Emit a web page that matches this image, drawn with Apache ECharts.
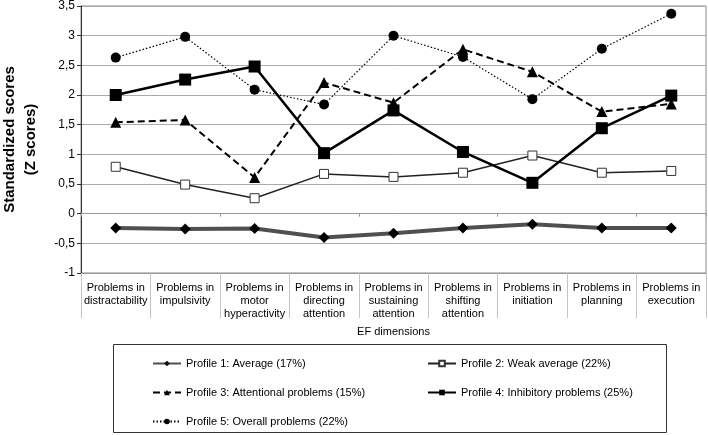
<!DOCTYPE html>
<html>
<head>
<meta charset="utf-8" />
<script src="https://cdn.jsdelivr.net/npm/echarts@6/dist/echarts.min.js"></script>
<title>EF profiles</title>
<style type="text/css">
* {margin:0; padding:0;}
body {background:#fff;}
#main {width:708px; height:435px;}
</style>
</head>
<body>
<div id="main"></div>
<script>
var categories = [
  'Problems in\ndistractability', 'Problems in\nimpulsivity', 'Problems in\nmotor\nhyperactivity',
  'Problems in\ndirecting\nattention', 'Problems in\nsustaining\nattention', 'Problems in\nshifting\nattention',
  'Problems in\ninitiation', 'Problems in\nplanning', 'Problems in\nexecution'
];
var names = [
  'Profile 1: Average (17%)', 'Profile 2: Weak average (22%)', 'Profile 3: Attentional problems (15%)',
  'Profile 4: Inhibitory problems (25%)', 'Profile 5: Overall problems (22%)'
];
var profile1 = [-0.24, -0.26, -0.25, -0.40, -0.33, -0.24, -0.18, -0.24, -0.24];
var profile2 = [0.79, 0.49, 0.26, 0.67, 0.62, 0.69, 0.98, 0.69, 0.72];
var profile3 = [1.54, 1.58, 0.61, 2.21, 1.87, 2.77, 2.39, 1.72, 1.85];
var profile4 = [2.00, 2.26, 2.48, 1.02, 1.74, 1.04, 0.52, 1.44, 1.99];
var profile5 = [2.63, 2.98, 2.09, 1.84, 3.00, 2.64, 1.93, 2.78, 3.37];

var font = 'Liberation Sans, Arial, sans-serif';
var chart = echarts.init(document.getElementById('main'));

// one legend per item so they sit in a 2-column grid like the original
function legendAt(name, left, top) {
  return {
    data: [name], left: left, top: top,
    itemWidth: 28, itemHeight: 7, itemGap: 4,
    selectedMode: false,
    textStyle: {fontSize: 11, color: '#000', fontFamily: font}
  };
}

chart.setOption({
  backgroundColor: '#fff',
  animation: false,
  grid: {
    left: 81, right: 2, top: 6, bottom: 162,
    outerBoundsMode: 'none',
    show: true, borderColor: '#888', borderWidth: 1
  },
  legend: [
    legendAt(names[0], 147, 353),
    legendAt(names[1], 422, 353),
    legendAt(names[2], 147, 382),
    legendAt(names[3], 422, 382),
    legendAt(names[4], 147, 411)
  ],
  graphic: [{
    type: 'rect',
    shape: {x: 113.5, y: 344.5, width: 553, height: 88},
    style: {fill: 'none', stroke: '#333', lineWidth: 1}
  }],
  xAxis: [{
    type: 'category',
    data: categories,
    position: 'bottom',
    boundaryGap: true,
    axisLine: {show: true, onZero: false, lineStyle: {color: '#999'}},
    axisTick: {show: true, length: 45, lineStyle: {color: '#c4c4c4'}},
    axisLabel: {interval: 0, fontSize: 11, lineHeight: 13, color: '#000', margin: 8, fontFamily: font},
    splitLine: {show: false},
    name: 'EF dimensions',
    nameLocation: 'middle',
    nameGap: 53,
    nameTextStyle: {fontSize: 11, color: '#000', fontFamily: font}
  }, {
    // the axis line that crosses at zero
    type: 'category',
    data: categories,
    position: 'bottom',
    boundaryGap: true,
    axisLine: {show: true, onZero: true, lineStyle: {color: '#999'}},
    axisTick: {show: true, length: 3, lineStyle: {color: '#999'}},
    axisLabel: {show: false},
    splitLine: {show: false}
  }],
  yAxis: {
    type: 'value',
    min: -1, max: 3.5, interval: 0.5,
    axisLine: {show: true, lineStyle: {color: '#333'}},
    axisTick: {show: true, length: 4, lineStyle: {color: '#333'}},
    axisLabel: {
      fontSize: 12, color: '#000', margin: 6, fontFamily: font,
      formatter: function (v) { return String(v).replace('.', ','); }
    },
    splitLine: {lineStyle: {color: '#aaa'}},
    name: 'Standardized scores\n(Z scores)',
    nameLocation: 'middle',
    nameGap: 40,
    nameTextStyle: {fontSize: 15, fontWeight: 'bold', color: '#000', lineHeight: 21, fontFamily: font}
  },
  series: [
    {
      name: names[0], type: 'line', data: profile1,
      symbol: 'diamond', symbolSize: 11,
      itemStyle: {color: '#000'},
      lineStyle: {width: 4, color: '#505050'}
    },
    {
      name: names[1], type: 'line', data: profile2,
      symbol: 'rect', symbolSize: 9,
      itemStyle: {color: '#fff', borderColor: '#333', borderWidth: 1},
      lineStyle: {width: 1.5, color: '#222'}
    },
    {
      name: names[2], type: 'line', data: profile3,
      symbol: 'triangle', symbolSize: 11,
      itemStyle: {color: '#000'},
      lineStyle: {width: 2, color: '#000', type: [7, 4]}
    },
    {
      name: names[3], type: 'line', data: profile4,
      symbol: 'rect', symbolSize: 12,
      itemStyle: {color: '#000'},
      lineStyle: {width: 2.5, color: '#000'}
    },
    {
      name: names[4], type: 'line', data: profile5,
      symbol: 'circle', symbolSize: 10,
      itemStyle: {color: '#000'},
      lineStyle: {width: 1.2, color: '#000', type: [1.5, 2]}
    }
  ]
});
</script>
</body>
</html>
